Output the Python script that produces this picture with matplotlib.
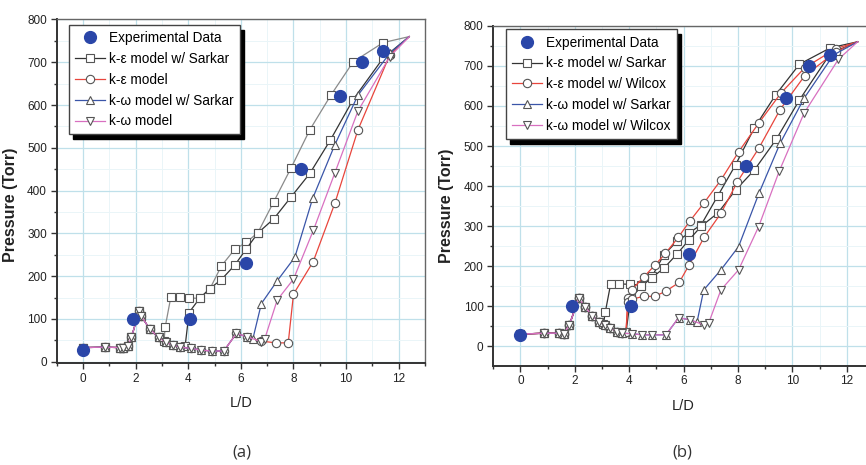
import matplotlib.pyplot as plt
from matplotlib.ticker import MultipleLocator

plt.rcParams['font.family'] = ['Liberation Sans', 'DejaVu Sans']

# experimental points (same in both panels)
ld_exp = [0, 1.9, 4.05, 6.2, 8.3, 9.75, 10.6, 11.4]
p_exp = [28, 100, 100, 230, 450, 620, 700, 727]

# ---- panel (a) ----
a_kes_x = [0, 0.82, 1.4, 1.52, 1.71, 1.84, 2.13, 2.22, 2.54, 2.87, 3.14, 3.42, 3.7, 3.88,
           4.03, 4.43, 4.82, 5.26, 5.77, 6.21, 6.65, 7.25, 7.92, 8.62, 9.4, 10.26, 11.41, 12.4]
a_kes_p = [33, 34, 33, 33, 37, 57, 118, 106, 76, 57, 45, 39, 34, 36,
           115, 148, 171, 192, 226, 264, 301, 334, 386, 440, 518, 612, 710, 760]

a_gray_x = [0, 0.82, 1.4, 1.52, 1.71, 1.84, 2.13, 2.22, 2.54, 2.87, 3.08, 3.12, 3.34, 3.67,
            4.03, 4.43, 4.82, 5.26, 5.77, 6.21, 6.65, 7.25, 7.9, 8.62, 9.42, 10.27, 11.41, 12.4]
a_gray_p = [33, 34, 33, 33, 37, 57, 118, 106, 76, 57, 48, 80, 152, 152,
            149, 148, 170, 224, 263, 279, 302, 374, 452, 542, 623, 701, 746, 760]

a_ke_x = [0, 0.82, 1.4, 1.52, 1.71, 1.84, 2.13, 2.22, 2.54, 2.87, 3.14, 3.42, 3.7, 4.12,
          4.5, 4.9, 5.35, 5.83, 6.24, 6.78, 7.35, 7.8, 8.0, 8.75, 9.57, 10.45, 11.66, 12.4]
a_ke_p = [33, 34, 33, 33, 37, 57, 118, 106, 76, 57, 45, 39, 34, 31,
          27, 25, 25, 66, 58, 48, 44, 44, 158, 234, 370, 542, 717, 760]

a_kws_x = [0, 0.82, 1.4, 1.52, 1.71, 1.84, 2.13, 2.22, 2.54, 2.87, 3.14, 3.42, 3.7, 4.12,
           4.5, 4.9, 5.35, 5.83, 6.24, 6.45, 6.78, 7.38, 8.05, 8.73, 9.57, 10.45, 11.66, 12.4]
a_kws_p = [33, 34, 33, 33, 37, 57, 118, 106, 76, 57, 45, 39, 34, 31,
           27, 25, 25, 66, 58, 52, 136, 189, 244, 382, 507, 623, 721, 760]

a_kw_x = [0, 0.82, 1.4, 1.52, 1.71, 1.84, 2.13, 2.22, 2.54, 2.87, 3.14, 3.42, 3.7, 4.12,
          4.5, 4.9, 5.35, 5.83, 6.24, 6.78, 6.9, 7.38, 8.0, 8.76, 9.57, 10.45, 11.66, 12.4]
a_kw_p = [33, 34, 33, 33, 37, 57, 118, 106, 76, 57, 45, 39, 34, 31,
          27, 25, 25, 66, 58, 47, 52, 144, 193, 308, 441, 586, 713, 760]

# ---- panel (b) ----
b_kes_x = [0, 0.86, 1.41, 1.59, 1.8, 2.14, 2.39, 2.63, 2.88, 3.05, 3.12, 3.32, 3.64, 4.04,
           4.45, 4.84, 5.27, 5.75, 6.2, 6.65, 7.26, 7.91, 8.6, 9.38, 10.26, 11.4, 12.4]
b_kes_p = [31, 33, 33, 31, 54, 120, 98, 77, 62, 55, 86, 157, 156, 155,
           153, 175, 228, 262, 283, 304, 376, 453, 545, 627, 704, 745, 760]

b_kes2_x = [0, 0.86, 1.41, 1.59, 1.8, 2.14, 2.39, 2.63, 2.88, 3.12, 3.31, 3.55, 3.74, 3.88,
            4.05, 4.45, 4.84, 5.27, 5.75, 6.2, 6.65, 7.26, 7.91, 8.6, 9.41, 10.26, 11.4, 12.4]
b_kes2_p = [31, 33, 33, 31, 54, 120, 98, 77, 62, 54, 46, 37, 33, 35,
            120, 150, 172, 195, 230, 266, 300, 333, 390, 440, 517, 615, 731, 760]

b_kew_x = [0, 0.86, 1.41, 1.59, 1.8, 2.14, 2.39, 2.63, 2.88, 3.12, 3.31, 3.55, 3.74, 3.88,
           3.95, 4.1, 4.53, 4.96, 5.33, 5.8, 6.22, 6.76, 7.37, 8.02, 8.76, 9.58, 10.45, 11.6, 12.4]
b_kew_p = [31, 33, 33, 31, 54, 120, 98, 77, 62, 54, 46, 37, 33, 35,
           120, 142, 173, 204, 232, 272, 312, 359, 415, 485, 557, 632, 695, 743, 760]

b_kew2_x = [0, 0.86, 1.41, 1.59, 1.8, 2.14, 2.39, 2.63, 2.88, 3.12, 3.31, 3.55, 3.74, 3.88,
            3.95, 4.1, 4.53, 4.94, 5.35, 5.84, 6.2, 6.76, 7.37, 7.98, 8.77, 9.55, 10.45, 11.6, 12.4]
b_kew2_p = [31, 33, 33, 31, 54, 120, 98, 77, 62, 54, 46, 37, 33, 35,
            110, 118, 125, 125, 138, 160, 203, 273, 332, 411, 495, 591, 675, 735, 760]

b_kws_x = [0, 0.86, 1.41, 1.59, 1.8, 2.14, 2.39, 2.63, 2.88, 3.12, 3.31, 3.55, 3.74, 4.1,
           4.47, 4.84, 5.35, 5.82, 6.25, 6.49, 6.74, 7.37, 8.02, 8.77, 9.55, 10.43, 11.51, 12.4]
b_kws_p = [31, 33, 33, 31, 54, 120, 98, 77, 62, 54, 46, 37, 33, 32,
           29, 29, 29, 72, 66, 60, 141, 191, 249, 382, 507, 619, 727, 760]

b_kww_x = [0, 0.86, 1.41, 1.59, 1.8, 2.14, 2.39, 2.63, 2.88, 3.12, 3.31, 3.55, 3.74, 4.1,
           4.47, 4.84, 5.35, 5.82, 6.25, 6.74, 6.92, 7.37, 8.02, 8.76, 9.52, 10.43, 11.69, 12.4]
b_kww_p = [31, 33, 33, 31, 54, 120, 98, 77, 62, 54, 46, 37, 33, 32,
           29, 29, 29, 72, 66, 54, 58, 141, 191, 299, 438, 582, 716, 760]

DARK = '#333333'
GRAY = '#8a8a8a'
RED = '#e8453c'
BLUE = '#3a55a8'
PINK = '#d870c0'
EXP = '#2a46a8'


def model(ax, x, p, color, marker, label='_nolegend_'):
    ax.plot(x, p, color=color, lw=0.9, marker=marker, ms=6, mfc='white',
            mec='#555555', mew=0.8, markevery=slice(0, -1), label=label)


def style(ax, ymin):
    ax.set_xlim(-1, 13)
    ax.set_ylim(ymin, 800)
    ax.xaxis.set_major_locator(MultipleLocator(2))
    ax.xaxis.set_minor_locator(MultipleLocator(1))
    ax.yaxis.set_major_locator(MultipleLocator(100))
    ax.yaxis.set_minor_locator(MultipleLocator(50))
    ax.grid(which='major', color='#bfe0ea', lw=0.9)
    ax.grid(which='minor', color='#eaf5f8', lw=0.7)
    ax.set_axisbelow(True)
    ax.tick_params(which='major', direction='out', length=4.5, width=1, color=DARK,
                   labelsize=8.5, labelcolor='#222222', pad=2.5)
    ax.tick_params(which='minor', direction='out', length=2.5, width=1, color=DARK)
    for s in ['left', 'bottom']:
        ax.spines[s].set_color(DARK)
        ax.spines[s].set_linewidth(1.4)
    for s in ['top', 'right']:
        ax.spines[s].set_color('#666666')
        ax.spines[s].set_linewidth(1.0)
    ax.set_xlabel('L/D', fontsize=10.5, color='#222222', labelpad=8)
    ax.set_ylabel('Pressure (Torr)', fontsize=11.5, fontweight='bold', color='#222222')


def legend(ax, x, y):
    ax.legend(loc='upper left', bbox_to_anchor=(x, y), borderaxespad=0, fontsize=9.8,
              labelspacing=0.5, handlelength=2.2, handletextpad=0.3, borderpad=0.45,
              fancybox=False, framealpha=1, edgecolor='#444444',
              shadow={'ox': 3, 'oy': -3.5, 'facecolor': 'black', 'edgecolor': 'black', 'alpha': 1})


fig = plt.figure(figsize=(8.66, 4.65), dpi=100)

# (a)
ax1 = fig.add_axes([0.0655, 0.2194, 0.4253, 0.7387])
ax1.plot(ld_exp, p_exp, 'o', color=EXP, ms=8.5, zorder=6, label='Experimental Data')
model(ax1, a_gray_x, a_gray_p, GRAY, 's')
model(ax1, a_kes_x, a_kes_p, DARK, 's', 'k-ε model w/ Sarkar')
model(ax1, a_ke_x, a_ke_p, RED, 'o', 'k-ε model')
model(ax1, a_kws_x, a_kws_p, BLUE, '^', 'k-ω model w/ Sarkar')
model(ax1, a_kw_x, a_kw_p, PINK, 'v', 'k-ω model')
style(ax1, -3)
ax1.yaxis.set_label_coords(-0.104, 0.46)
legend(ax1, 0.034, 0.984)
fig.text(0.279, 0.026, '(a)', fontsize=12, family='Open Sans', color='#333333',
         ha='center', va='center')

# (b)
ax2 = fig.add_axes([0.5696, 0.2135, 0.4396, 0.7312])
ax2.plot(ld_exp, p_exp, 'o', color=EXP, ms=8.5, zorder=6, label='Experimental Data')
model(ax2, b_kes_x, b_kes_p, DARK, 's', 'k-ε model w/ Sarkar')
model(ax2, b_kes2_x, b_kes2_p, DARK, 's')
model(ax2, b_kew_x, b_kew_p, RED, 'o', 'k-ε model w/ Wilcox')
model(ax2, b_kew2_x, b_kew2_p, RED, 'o')
model(ax2, b_kws_x, b_kws_p, BLUE, '^', 'k-ω model w/ Sarkar')
model(ax2, b_kww_x, b_kww_p, PINK, 'v', 'k-ω model w/ Wilcox')
style(ax2, -48)
ax2.yaxis.set_label_coords(-0.103, 0.471)
legend(ax2, 0.033, 0.989)
fig.text(0.788, 0.026, '(b)', fontsize=12, family='Open Sans', color='#333333',
         ha='center', va='center')

fig.savefig('out.png', dpi=100)
